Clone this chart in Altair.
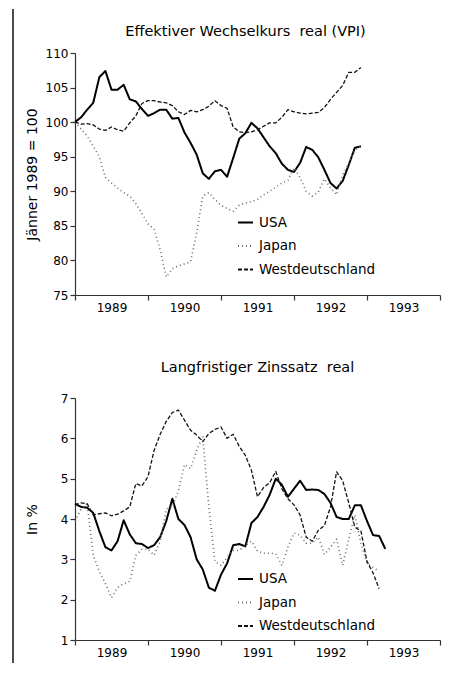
import altair as alt
import pandas as pd

SERIES = ["USA", "Japan", "Westdeutschland"]

# Effektiver Wechselkurs real (VPI), Jänner 1989 = 100, monthly Jan 1989 - Dec 1992
usa_fx = [100.0, 100.7, 101.8, 102.8, 106.5, 107.4, 104.7, 104.7, 105.4, 103.3, 103.0, 101.9,
          100.9, 101.3, 101.8, 101.8, 100.5, 100.6, 98.5, 97.0, 95.3, 92.6, 91.8, 92.9,
          93.1, 92.1, 94.8, 97.6, 98.4, 99.9, 99.1, 97.8, 96.5, 95.5, 94.0, 93.1,
          92.8, 94.1, 96.4, 96.0, 94.9, 93.1, 91.2, 90.4, 91.5, 93.8, 96.3, 96.5]
jp_fx = [100.0, 99.0, 98.0, 96.5, 95.0, 92.0, 91.2, 90.5, 89.8, 89.3, 88.2, 86.8,
         85.3, 84.5, 81.5, 77.6, 78.8, 79.2, 79.5, 79.8, 84.0, 89.3, 89.8, 88.8,
         88.0, 87.5, 87.1, 88.0, 88.3, 88.5, 88.8, 89.5, 90.0, 90.6, 91.2, 91.6,
         93.4, 92.0, 90.0, 89.3, 89.9, 91.8, 90.5, 89.5, 92.4, 94.0, 96.0, 96.5]
de_fx = [100.0, 99.7, 99.8, 99.6, 99.0, 98.8, 99.3, 98.9, 98.7, 99.9, 100.9, 102.7,
         103.1, 103.1, 102.9, 102.8, 102.4, 101.5, 101.1, 101.7, 101.5, 101.8, 102.3, 103.1,
         102.4, 102.0, 99.3, 98.6, 98.5, 98.6, 98.9, 99.4, 99.9, 99.9, 100.7, 101.8,
         101.5, 101.3, 101.2, 101.3, 101.4, 102.1, 103.3, 104.3, 105.3, 107.2, 107.2, 107.9]

# Langfristiger Zinssatz real, in %, monthly from Jan 1989
usa_ir = [4.38, 4.30, 4.28, 4.15, 3.70, 3.30, 3.22, 3.45, 3.97, 3.62, 3.40, 3.38,
          3.28, 3.35, 3.55, 3.95, 4.50, 4.00, 3.85, 3.55, 3.00, 2.75, 2.30, 2.22,
          2.62, 2.90, 3.35, 3.38, 3.32, 3.90, 4.05, 4.30, 4.60, 5.00, 4.85, 4.55,
          4.75, 4.95, 4.72, 4.73, 4.72, 4.62, 4.40, 4.05, 4.00, 4.00, 4.34, 4.34,
          3.95, 3.60, 3.58, 3.26]
jp_ir = [3.95, 4.25, 4.38, 3.10, 2.70, 2.40, 2.05, 2.30, 2.40, 2.45, 3.10, 3.25,
         3.25, 3.10, 3.45, 4.25, 4.30, 4.70, 5.35, 5.25, 5.70, 6.05, 4.30, 2.95,
         2.85, 3.05, 3.22, 3.22, 3.35, 3.45, 3.20, 3.15, 3.15, 3.14, 2.85, 3.30,
         3.65, 3.60, 3.40, 3.40, 3.55, 3.12, 3.30, 3.50, 2.85, 3.50, 4.10, 3.40,
         2.90, 2.80, 2.70]
de_ir = [4.35, 4.40, 4.38, 4.10, 4.13, 4.15, 4.08, 4.12, 4.20, 4.30, 4.88, 4.82,
         5.05, 5.70, 6.10, 6.42, 6.64, 6.70, 6.45, 6.20, 6.08, 5.92, 6.12, 6.22,
         6.28, 6.00, 6.10, 5.80, 5.58, 5.21, 4.55, 4.78, 4.90, 5.18, 4.75, 4.50,
         4.35, 4.10, 3.55, 3.45, 3.72, 3.84, 4.30, 5.17, 4.95, 4.40, 3.80, 3.70,
         2.95, 2.66, 2.27]

# year boundaries carry ticks, mid-years carry the labels
x_axis_values = [1989, 1989.5, 1990, 1990.5, 1991, 1991.5, 1992, 1992.5, 1993, 1993.5, 1994]
fx_ticks = [75, 80, 85, 90, 95, 100, 105, 110]
ir_ticks = [1, 2, 3, 4, 5, 6, 7]

FONT = "DejaVu Sans"
W, H = 365, 242


def table(pairs):
    rows = []
    for name, vals in pairs:
        for i, v in enumerate(vals):
            rows.append({"t": 1989 + i / 12.0, "v": v, "s": name})
    return pd.DataFrame(rows)


def panel(df, title, title_dx, title_offset, ytitle, ydomain, yticks, legend_y):
    legend = alt.Legend(
        orient="none", legendX=162, legendY=legend_y, title=None,
        symbolType="stroke", symbolSize=225, symbolStrokeWidth=2,
        labelFont=FONT, labelFontSize=13.5, labelColor="#000",
        labelOffset=5, rowPadding=8.5, padding=0,
    )
    return alt.Chart(df).mark_line(strokeJoin="round", strokeCap="butt").encode(
        x=alt.X("t:Q", title=None,
                scale=alt.Scale(domain=[1989, 1994], nice=False, zero=False),
                axis=alt.Axis(values=x_axis_values,
                              labelExpr="datum.value % 1 == 0.5 ? floor(datum.value) : ''",
                              tickOpacity={"condition": {"test": "datum.value % 1 == 0", "value": 1}, "value": 0},
                              labelOverlap=False, labelFlush=False, labelBound=False,
                              tickSize=5, labelPadding=2)),
        y=alt.Y("v:Q", title=ytitle,
                scale=alt.Scale(domain=ydomain, nice=False, zero=False),
                axis=alt.Axis(values=yticks, tickSize=5, labelPadding=2,
                              titleX=-43, titleY=H / 2, titleAngle=270,
                              titleAlign="center", titleBaseline="middle")),
        color=alt.Color("s:N", scale=alt.Scale(domain=SERIES, range=["#000000", "#707070", "#111111"]),
                        legend=legend),
        strokeDash=alt.StrokeDash("s:N", scale=alt.Scale(domain=SERIES, range=[[1, 0], [1, 3], [4, 2]]),
                                  legend=legend),
        strokeWidth=alt.StrokeWidth("s:N", scale=alt.Scale(domain=SERIES, range=[2.0, 1.3, 1.8]),
                                    legend=None),
        order=alt.Order("t:Q"),
    ).properties(
        width=W, height=H,
        title=alt.TitleParams(title, font=FONT, fontSize=14.5, fontWeight="normal",
                              color="#000", anchor="middle", dx=title_dx, offset=title_offset),
    )


top = panel(table([("USA", usa_fx), ("Japan", jp_fx), ("Westdeutschland", de_fx)]),
            "Effektiver Wechselkurs\u00a0\u00a0real (VPI)", -12, 8,
            "Jänner 1989 = 100", [75, 110], fx_ticks, 161)
bottom = panel(table([("USA", usa_ir), ("Japan", jp_ir), ("Westdeutschland", de_ir)]),
               "Langfristiger Zinssatz\u00a0\u00a0real", 0, 17,
               "In %", [1, 7], ir_ticks, 172.5)

# left edge of the scanned page frame, as its own thin cell
border = alt.Chart(pd.DataFrame({"k": [0]})).mark_rule(color="#111", strokeWidth=1.5).encode(
    x=alt.value(0), y=alt.value(-44), y2=alt.value(610)
).properties(width=1, height=600)

charts = alt.vconcat(top, bottom, spacing=46).resolve_legend(
    color="independent", strokeDash="independent"
)

chart = alt.hconcat(border, charts, spacing=11).properties(
    padding={"left": 4, "top": 0, "right": 5, "bottom": 0}
).configure_view(stroke=None).configure_axis(
    grid=False, domainColor="#333", tickColor="#333", domainWidth=1.2, tickWidth=1.2,
    labelFont=FONT, labelFontSize=12, labelColor="#000",
    titleFont=FONT, titleFontSize=14, titleFontWeight="normal", titleColor="#000",
)

chart.save("out.html", embed_options={"renderer": "svg", "actions": False})
